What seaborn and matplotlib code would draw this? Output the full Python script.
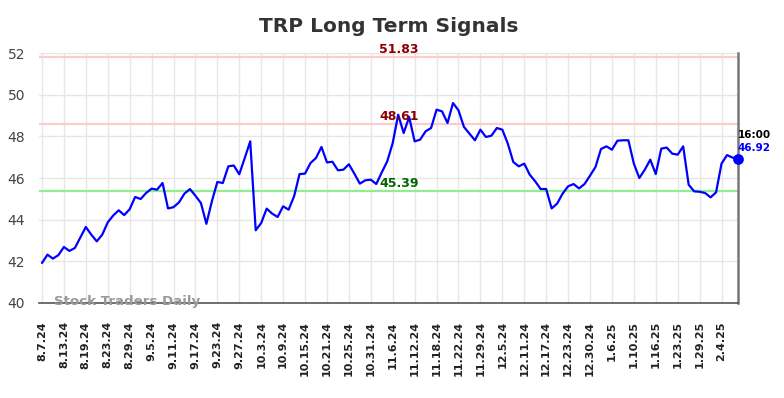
import numpy as np
import pandas as pd
import seaborn as sns
from matplotlib import pyplot as plt

# closing prices, one per trading day (8.7.24 .. 2.7.25)
prices = [
    41.92, 42.32, 42.13, 42.30, 42.69, 42.50, 42.64, 43.15, 43.65, 43.28,
    42.96, 43.28, 43.87, 44.20, 44.45, 44.22, 44.50, 45.09, 44.99, 45.28,
    45.49, 45.44, 45.76, 44.54, 44.60, 44.83, 45.25, 45.47, 45.15, 44.80,
    43.80, 44.88, 45.81, 45.76, 46.56, 46.60, 46.18, 46.96, 47.76, 43.49,
    43.84, 44.53, 44.29, 44.13, 44.64, 44.48, 45.12, 46.19, 46.21, 46.72,
    46.96, 47.49, 46.75, 46.78, 46.37, 46.40, 46.66, 46.21, 45.73, 45.89,
    45.92, 45.71, 46.27, 46.80, 47.68, 49.04, 48.16, 48.93, 47.76, 47.84,
    48.24, 48.40, 49.28, 49.20, 48.64, 49.60, 49.25, 48.45, 48.13, 47.81,
    48.32, 47.97, 48.03, 48.40, 48.32, 47.65, 46.77, 46.56, 46.69, 46.16,
    45.84, 45.47, 45.47, 44.54, 44.77, 45.25, 45.60, 45.71, 45.50, 45.71,
    46.11, 46.53, 47.39, 47.52, 47.36, 47.79, 47.81, 47.81, 46.69, 46.00,
    46.40, 46.88, 46.19, 47.41, 47.46, 47.17, 47.12, 47.52, 45.68, 45.36,
    45.34, 45.28, 45.07, 45.31, 46.69, 47.10, 46.98, 46.92,
]

# every 4th trading day gets a label
tick_labels = [
    '8.7.24', '8.13.24', '8.19.24', '8.23.24', '8.29.24', '9.5.24', '9.11.24',
    '9.17.24', '9.23.24', '9.27.24', '10.3.24', '10.9.24', '10.15.24',
    '10.21.24', '10.25.24', '10.31.24', '11.6.24', '11.12.24', '11.18.24',
    '11.22.24', '11.29.24', '12.5.24', '12.11.24', '12.17.24', '12.23.24',
    '12.30.24', '1.6.25', '1.10.25', '1.16.25', '1.23.25', '1.29.25', '2.4.25',
]
tick_step = 4

# signal levels
resist_levels = [51.83, 48.61]
support_levels = [45.39]
last_time = '16:00'

df = pd.DataFrame({'day': np.arange(len(prices)), 'price': prices})

sns.set_style('white')
fig = plt.figure(figsize=(7.84, 3.98), dpi=100)
ax = fig.add_axes([0.0497, 0.2387, 0.8916, 0.6281])

sns.lineplot(data=df, x='day', y='price', ax=ax, color='#0000ff', lw=1.6, zorder=5)

for lvl in resist_levels:
    ax.axhline(lvl, color='#ffcccc', lw=1.6, zorder=2)
    ax.annotate(f'{lvl:.2f}', xy=(0.515, lvl), xycoords=('axes fraction', 'data'),
                xytext=(0, 5), textcoords='offset points', ha='center', va='center',
                color='#8b0000', fontsize=9, fontweight='bold', zorder=6)
for lvl in support_levels:
    ax.axhline(lvl, color='#90ee90', lw=1.6, zorder=2)
    ax.annotate(f'{lvl:.2f}', xy=(0.515, lvl), xycoords=('axes fraction', 'data'),
                xytext=(0, 5), textcoords='offset points', ha='center', va='center',
                color='#006400', fontsize=9, fontweight='bold', zorder=6)

# last point marker + labels
last_x = df['day'].iloc[-1]
last_y = df['price'].iloc[-1]
ax.scatter([last_x], [last_y], s=45, color='#0000ff', zorder=7, clip_on=False)
ax.annotate(last_time, xy=(last_x, last_y), xytext=(0, 17.5), textcoords='offset points',
            ha='left', va='center', fontsize=7.5, fontweight='bold', color='black')
ax.annotate(f'{last_y:.2f}', xy=(last_x, last_y), xytext=(0, 8), textcoords='offset points',
            ha='left', va='center', fontsize=7.5, fontweight='bold', color='#0000ff')

ax.set_xlim(-0.55, len(prices) - 1)
ax.set_ylim(40, 52)
ax.set_xticks(np.arange(len(tick_labels)) * tick_step)
ax.set_xticklabels(tick_labels, rotation=90, fontsize=8, fontweight='bold', color='#222222')
ax.set_yticks(np.arange(40, 53, 2))
ax.tick_params(axis='y', length=0, pad=10, labelsize=10, labelcolor='#444444')
ax.tick_params(axis='x', length=0, pad=13)
ax.set_xlabel('')
ax.set_ylabel('')

ax.grid(True, color='#e6e6e6', lw=1)
ax.set_axisbelow(True)
for s in ['left', 'top']:
    ax.spines[s].set_visible(False)
ax.spines['bottom'].set_color('#555555')
ax.spines['bottom'].set_linewidth(1.2)
ax.spines['right'].set_color('#777777')
ax.spines['right'].set_linewidth(1.8)

ax.text(0.0215, 0.006, 'Stock Traders Daily', transform=ax.transAxes, ha='left', va='center',
        fontsize=9.6, fontweight='bold', color='#999999', zorder=8)

fig.text(0.4955, 1 - 26 / 398, 'TRP Long Term Signals', ha='center', va='center',
         fontsize=14.5, fontweight='bold', color='#333333')

fig.savefig('out.png', dpi=100)
